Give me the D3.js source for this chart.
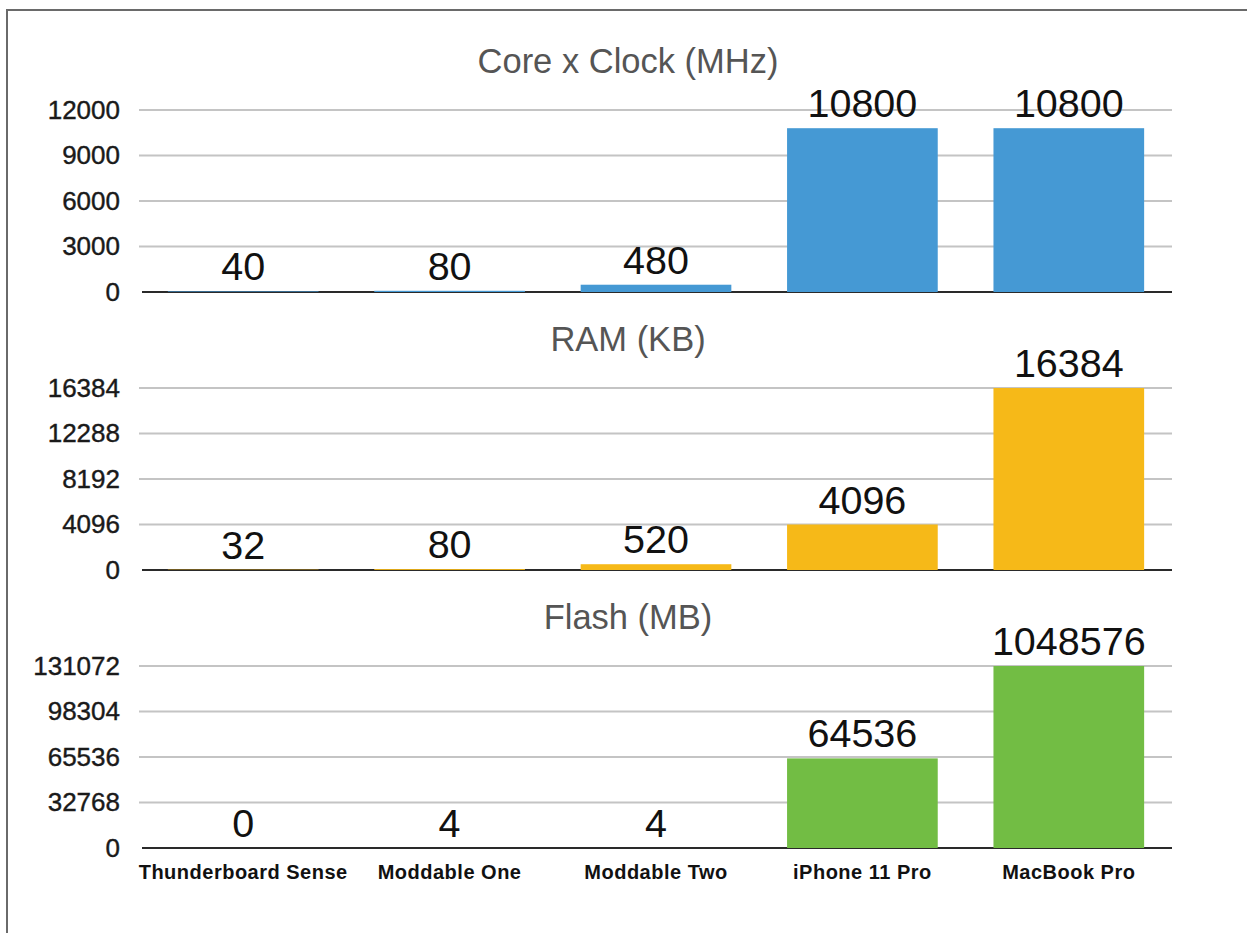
<!DOCTYPE html>
<html>
<head>
<meta charset="utf-8">
<script src="https://cdn.jsdelivr.net/npm/d3@7"></script>
<style>
  body { margin: 0; background: #fff; }
  svg { display: block; font-family: "Liberation Sans", Arial, Helvetica, sans-serif; }
</style>
</head>
<body>
<div id="chart"></div>
<script>
// devices along the bottom
var categories = ["Thunderboard Sense", "Moddable One", "Moddable Two", "iPhone 11 Pro", "MacBook Pro"];

// one series per panel
var coreClock = [40, 80, 480, 10800, 10800];
var ramKB = [32, 80, 520, 4096, 16384];
var flashMB = [0, 4, 4, 64536, 1048576];

// tick labels for each panel
var coreTicks = [0, 3000, 6000, 9000, 12000];
var ramTicks = [0, 4096, 8192, 12288, 16384];
var flashTicks = [0, 32768, 65536, 98304, 131072];

var titles = ["Core x Clock (MHz)", "RAM (KB)", "Flash (MB)"];
var colors = ["#4599d4", "#f6b918", "#72bd44"];

var W = 1247, H = 933;
var left = 140, right = 1172;
var panelH = 182;
var panelTops = [110, 388, 666];

var svg = d3.select("#chart")
  .append("svg")
  .attr("width", W)
  .attr("height", H);

// outer frame (runs off the right and bottom edges)
svg.append("rect")
  .attr("x", 7).attr("y", 10)
  .attr("width", 1260).attr("height", 940)
  .attr("fill", "none")
  .attr("stroke", "#6a6a6a")
  .attr("stroke-width", 2);

var x = d3.scaleBand()
  .domain(categories)
  .range([left, right])
  .paddingInner(0.27)
  .paddingOuter(0.135);

var panels = [
  { values: coreClock, ticks: coreTicks },
  { values: ramKB, ticks: ramTicks },
  { values: flashMB, ticks: flashTicks }
];

panels.forEach(function(p, i) {
  var top = panelTops[i];
  var maxV = p.ticks[p.ticks.length - 1];
  var y = d3.scaleLinear()
    .domain([0, maxV])
    .range([top + panelH, top])
    .clamp(true);

  var g = svg.append("g");

  // title
  g.append("text")
    .attr("x", 628)
    .attr("y", top - 37)
    .attr("text-anchor", "middle")
    .attr("font-size", 34.5)
    .attr("fill", "#555")
    .text(titles[i]);

  // gridlines
  g.append("g")
    .selectAll("line")
    .data(p.ticks.slice(1))
    .enter()
    .append("line")
    .attr("x1", 139).attr("x2", right)
    .attr("y1", function(d) { return y(d); })
    .attr("y2", function(d) { return y(d); })
    .attr("stroke", "#c4c4c4")
    .attr("stroke-width", 2);

  // y axis labels
  var ax = g.append("g")
    .attr("transform", "translate(" + (left - 4) + ",0)")
    .call(d3.axisLeft(y).tickValues(p.ticks).tickSize(0).tickPadding(16).tickFormat(d3.format("d")));
  ax.select(".domain").remove();
  ax.selectAll("text")
    .attr("font-size", 26)
    .attr("fill", "#1a1a1a")
    .attr("stroke", "#1a1a1a")
    .attr("stroke-width", 0.4)
    .attr("font-family", "Liberation Sans, Arial, sans-serif");

  // baseline
  g.append("line")
    .attr("x1", 142).attr("x2", right)
    .attr("y1", y(0)).attr("y2", y(0))
    .attr("stroke", "#2a2a2a")
    .attr("stroke-width", 2);

  // bars
  g.append("g")
    .selectAll("rect")
    .data(p.values)
    .enter()
    .append("rect")
    .attr("x", function(d, j) { return x(categories[j]); })
    .attr("width", x.bandwidth())
    .attr("y", function(d) { return y(d); })
    .attr("height", function(d) { return y(0) - y(d); })
    .attr("fill", colors[i]);

  // value labels
  g.append("g")
    .selectAll("text")
    .data(p.values)
    .enter()
    .append("text")
    .attr("x", function(d, j) { return x(categories[j]) + x.bandwidth() / 2; })
    .attr("y", function(d) { return y(d) - 11; })
    .attr("text-anchor", "middle")
    .attr("font-size", 39.5)
    .attr("fill", "#111")
    .text(function(d) { return d; });
});

// category labels under the last panel
svg.append("g")
  .selectAll("text")
  .data(categories)
  .enter()
  .append("text")
  .attr("x", function(d) { return x(d) + x.bandwidth() / 2; })
  .attr("y", panelTops[2] + panelH + 31)
  .attr("text-anchor", "middle")
  .attr("font-size", 20)
  .attr("font-weight", "bold")
  .attr("letter-spacing", 0.5)
  .attr("fill", "#111")
  .text(function(d) { return d; });
</script>
</body>
</html>
